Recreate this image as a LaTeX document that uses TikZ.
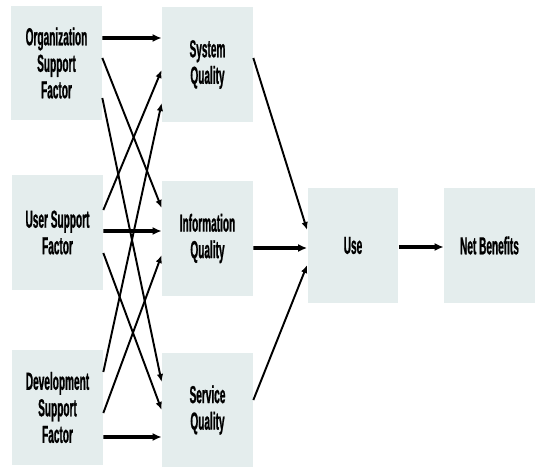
\documentclass[tikz,border=0pt]{standalone}
\usepackage{fontspec}
\setmainfont{Liberation Sans}[FakeStretch=0.41, BoldFeatures={FakeBold=0.8}]
\usepackage{tikz}
\usetikzlibrary{arrows.meta}
\definecolor{boxfill}{RGB}{228,237,237}

\begin{document}
\begin{tikzpicture}[
  x=0.02cm, y=-0.02cm,
  font=\fontsize{14}{15.1}\selectfont\bfseries,
  factor/.style={
    fill=boxfill,
    align=center,
    inner sep=0pt,
    minimum width=1.82cm,
    minimum height=2.3cm
  },
  flow/.style={-{Latex[length=1.6mm,width=1.3mm]}, line width=1.1pt, draw=black},
  mainflow/.style={-{Latex[length=1.8mm,width=1.6mm]}, line width=2.2pt, draw=black}
]
  \useasboundingbox (0,0) rectangle (535,468);

  \node[factor] (org) at (56.5,63) {Organization\\Support\\Factor};
  \node[factor] (user) at (57.5,232.5) {User Support\\Factor};
  \node[factor] (dev) at (57.5,407.5) {Development\\Support\\Factor};
  \node[factor] (sys) at (207.5,64.5) {System\\Quality};
  \node[factor] (info) at (207.5,238.5) {Information\\Quality};
  \node[factor] (serv) at (207.5,410) {Service\\Quality};
  \node[factor] (use) at (353,245.5) {Use};
  \node[factor] (net) at (489.5,245.5) {Net Benefits};

  % factors to quality
  \draw[mainflow] ([yshift=0.5cm]org.east) -- ([yshift=0.53cm]sys.west);
  \draw[flow] ([yshift=0.1cm]org.east) -- ([yshift=0.61cm]info.west);
  \draw[flow] ([yshift=-0.7cm]org.east) -- ([yshift=0.56cm]serv.west);
  \draw[flow] ([yshift=0.45cm]user.east) -- ([yshift=-0.11cm]sys.west);
  \draw[mainflow] ([yshift=0.03cm]user.east) -- ([yshift=0.15cm]info.west);
  \draw[flow] ([yshift=-0.41cm]user.east) -- ([yshift=0cm]serv.west);
  \draw[flow] ([yshift=0.71cm]dev.east) -- ([yshift=-0.77cm]sys.west);
  \draw[flow] ([yshift=-0.11cm]dev.east) -- ([yshift=-0.33cm]info.west);
  \draw[mainflow] ([yshift=-0.59cm]dev.east) -- ([yshift=-0.54cm]serv.west);

  % quality to use
  \draw[flow] ([yshift=0.13cm]sys.east) -- ([yshift=0.31cm]use.west);
  \draw[mainflow] ([yshift=-0.19cm]info.east) -- ([yshift=-0.05cm]use.west);
  \draw[flow] ([yshift=0.2cm]serv.east) -- ([yshift=-0.39cm]use.west);
  \draw[mainflow] ([yshift=-0.03cm]use.east) -- ([yshift=-0.03cm]net.west);
\end{tikzpicture}
\end{document}
